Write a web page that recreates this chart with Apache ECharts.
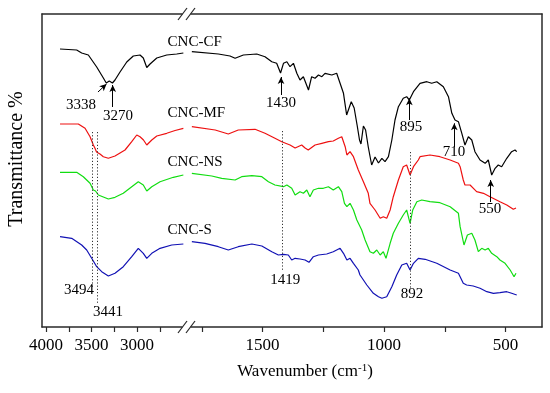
<!DOCTYPE html>
<html><head><meta charset="utf-8">
<script src="https://cdn.jsdelivr.net/npm/echarts@6/dist/echarts.min.js"></script>
<style>html,body{margin:0;padding:0;background:#fff}#c{width:550px;height:393px}</style>
</head><body><div id="c"></div>
<script>
// ---- tick values ----
const leftTicks = [4000, 3750, 3500, 3250, 3000, 2750];
const leftLabels = [4000, 3500, 3000];
const rightTicks = [1750, 1500, 1250, 1000, 750, 500];
const rightLabels = [1500, 1000, 500];

// ---- spectra: [wavenumber, relative transmittance (arbitrary, offset)] ----
const cfLeft = [[3846,278],[3663,277],[3608,274],[3535,272],[3443,260],[3370,249],[3338,244],[3305,246],[3270,244],[3242,247],[3187,255],[3113,265],[3041,271],[2967,272],[2931,269],[2893,259.5],[2857,263],[2783,269],[2674,272],[2564,273],[2491,274]];
const cfRight = [[1791,275.3],[1682,273],[1634,271],[1613,268.7],[1579,272],[1524,273],[1490,270.3],[1462,265.3],[1442,263.7],[1426,254],[1414,263.7],[1400,265.3],[1387,260.3],[1373,263.7],[1359,253.7],[1346,247],[1332,250.3],[1311,237],[1298,250.3],[1284,248.7],[1270,252],[1256,250.3],[1243,253.7],[1215,252],[1195,253.7],[1181,243.7],[1167,233.7],[1154,212],[1144,219],[1135,225.3],[1123,219],[1111,202],[1101,187],[1095,183],[1085,201],[1076,197],[1065,180],[1051,162],[1037,170],[1023,164],[1009,168.7],[996,165.3],[982,170.3],[968,187],[955,207],[941,220.3],[921,228.7],[907,230.3],[896,227],[879,235.3],[852,243.7],[824,245.3],[804,243.7],[783,245.3],[756,240.3],[735,230.3],[721,213.7],[708,207],[694,205.3],[680,193.7],[667,182],[653,190.3],[639,187],[626,175.3],[605,167],[584,163.7],[571,167],[557,152],[543,158.7],[530,162],[516,160.3],[495,168.7],[475,175.3],[461,177],[454,175.3]];

const mfLeft = [[3846,203],[3645,203],[3571,198.7],[3516,190.3],[3480,182],[3462,178.7],[3445,175],[3434,176.5],[3407,173],[3370,170.3],[3315,168.7],[3242,171],[3132,177],[3058,185.3],[3003,192],[2967,190.3],[2929,187],[2893,182],[2838,187],[2783,191],[2674,193.7],[2582,196.5],[2491,198.7]];
const mfRight = [[1791,200.3],[1695,197],[1641,193],[1600,197],[1531,197.7],[1490,193.7],[1449,188.7],[1421,185.3],[1387,182],[1366,179],[1339,182],[1325,179],[1312,177],[1284,182],[1256,183.7],[1229,185.3],[1209,186],[1188,188.7],[1174,190.3],[1160,180.3],[1153,172],[1140,175.3],[1126,170.3],[1106,157],[1085,145.3],[1065,133.7],[1058,123.7],[1037,117],[1016,108.7],[1003,110.3],[989,108.7],[975,117],[962,130.3],[941,147],[921,160.3],[907,162],[893,152],[879,160.3],[859,167],[852,170.3],[811,172],[770,170.3],[728,167],[694,163.7],[687,160.3],[674,147],[667,142],[646,142],[619,135.3],[591,133.7],[564,130.3],[523,125.3],[495,122],[468,117.7],[457,119]];

const nsLeft = [[3846,154.7],[3663,154.7],[3590,150.3],[3516,143.7],[3480,137],[3456,136],[3443,137],[3425,132],[3370,130],[3315,128],[3242,129.7],[3151,133.7],[3058,140.3],[2986,145.3],[2931,142],[2893,136],[2838,140.3],[2747,145.3],[2601,149.7],[2491,152]];
const nsRight = [[1791,153.7],[1709,151],[1668,148.7],[1613,147],[1586,150.3],[1544,151.3],[1503,150.3],[1476,145.3],[1449,142],[1414,140.3],[1400,142],[1380,138.7],[1366,132],[1346,135.3],[1332,133.7],[1318,137],[1305,130.3],[1291,137],[1270,138.7],[1250,138.7],[1229,140.3],[1209,137],[1188,140.3],[1174,135.3],[1163,123.7],[1153,120.3],[1140,123.7],[1126,117],[1112,107],[1092,97],[1078,87],[1058,75.3],[1044,73.7],[1030,77],[1016,72],[1003,75.3],[992,68.7],[975,83.7],[962,93.7],[941,103.7],[921,112],[907,117],[893,103.7],[882,117],[865,125.3],[845,127],[811,125.3],[770,124.3],[728,120.3],[694,113.7],[687,100.3],[671,82],[657,92],[639,93.7],[626,87],[612,75.3],[598,78.7],[584,77],[571,78.7],[557,73.7],[536,70.3],[523,67],[502,63.7],[481,57],[465,50.3],[457,53.7]];

const sLeft = [[3846,90.3],[3718,88.7],[3608,82],[3553,77],[3498,68.7],[3443,60.3],[3388,55.3],[3315,51],[3242,53.7],[3151,60.3],[3058,70.3],[2986,78.7],[2931,73.7],[2893,68.7],[2838,73.7],[2747,78.7],[2619,82],[2491,83]];
const sRight = [[1791,85.3],[1737,83.7],[1682,80.3],[1641,77],[1600,80.3],[1544,83],[1503,81],[1462,75.3],[1435,72],[1414,72.7],[1394,72],[1380,67],[1366,68.7],[1346,68],[1325,67],[1309,64.7],[1291,70.3],[1270,72],[1236,73],[1209,75.3],[1195,77],[1181,78.7],[1167,73.7],[1153,67],[1140,68.7],[1126,63.7],[1106,57],[1099,52],[1071,42],[1044,33.7],[1023,30.3],[1009,28.7],[989,30.3],[968,40.3],[948,52],[927,62],[907,63.7],[893,57],[879,63.7],[859,68.7],[831,67.7],[783,63.7],[728,57],[694,53.7],[674,43.7],[660,42],[633,41],[605,38.7],[577,35.3],[550,33.7],[523,34.3],[495,35.3],[475,33.7],[454,32]];

// ---- annotations ----
const seriesNames = ['CNC-CF', 'CNC-MF', 'CNC-NS', 'CNC-S'];
const seriesColors = ['#000000', '#ee1111', '#11dd11', '#1111b4'];
const nameLabelPos = [[2670, 285], [2670, 214], [2670, 165], [2670, 96.5]];
const peakLabelsLeft = [['3338', 3615, 222], ['3270', 3209, 211], ['3494', 3637, 37], ['3441', 3319, 15]];
const peakLabelsRight = [['1430', 1424, 224], ['895', 889, 200], ['710', 712, 175], ['550', 564, 118], ['1419', 1407, 47], ['892', 885, 33]];
const arrowsLeft = [[[3429, 235], [3335, 243]], [[3267, 220], [3267, 242]]];
const arrowsRight = [[[1424, 232], [1424, 250]], [[896, 207], [896, 228.7]], [[711, 180], [711, 203.7]], [[561, 125], [561, 147]]];
const dottedLeft = [[3494, 195, 40], [3441, 195, 24]];
const dottedRight = [[1419, 196, 57], [892, 175, 39]];

const FONT = 'Liberation Serif';
const AX = '#2a2a2a';
const chart = echarts.init(document.getElementById('c'), null, {renderer: 'canvas'});

function xAx(grid, min, max, pos, ticks, labels) {
  const main = pos === 'bottom';
  return {
    gridIndex: grid, type: 'value', min: min, max: max, inverse: true, position: pos,
    axisLine: {show: true, onZero: false, lineStyle: {color: AX, width: 1.5}},
    axisTick: {show: main, inside: false, length: 5, customValues: ticks, lineStyle: {color: AX, width: 1.2}},
    axisLabel: {show: main, customValues: labels, margin: 10, fontFamily: FONT, fontSize: 17, color: '#000',
      formatter: v => String(v)},
    splitLine: {show: false}
  };
}
function yAx(grid, pos) {
  return {
    gridIndex: grid, type: 'value', min: 0, max: 313, position: pos,
    axisLine: {show: true, onZero: false, lineStyle: {color: AX, width: 1.5}},
    axisTick: {show: false}, axisLabel: {show: false}, splitLine: {show: false}
  };
}
const labelStyle = {fontFamily: FONT, fontSize: 15, color: '#000'};
function peakPoints(list) {
  return list.map(p => ({name: p[0], coord: [p[1], p[2]]}));
}
function arrowLines(list) {
  return list.map(a => [{coord: a[0]}, {coord: a[1]}]);
}
function dotLines(list) {
  return list.map(d => [{coord: [d[0], d[1]]}, {coord: [d[0], d[2]]}]);
}

const leftData = [cfLeft, mfLeft, nsLeft, sLeft];
const rightData = [cfRight, mfRight, nsRight, sRight];
const series = [];
for (let i = 0; i < 4; i++) {
  const leftS = {
    type: 'line', name: seriesNames[i], xAxisIndex: 0, yAxisIndex: 0, data: leftData[i],
    showSymbol: false, symbol: 'none', lineStyle: {color: seriesColors[i], width: 1.2}, itemStyle: {color: seriesColors[i]},
    silent: true, clip: false,
    markPoint: {
      symbol: 'rect', symbolSize: 1, itemStyle: {color: 'rgba(0,0,0,0)'}, silent: true,
      label: Object.assign({show: true, position: 'right', distance: 0, formatter: '{b}'}, labelStyle),
      data: [{name: seriesNames[i], coord: nameLabelPos[i]}]
    }
  };
  const rightS = {
    type: 'line', name: seriesNames[i], xAxisIndex: 1, yAxisIndex: 1, data: rightData[i],
    showSymbol: false, symbol: 'none', lineStyle: {color: seriesColors[i], width: 1.2}, itemStyle: {color: seriesColors[i]},
    silent: true, clip: false
  };
  series.push(leftS, rightS);
}
// annotation carriers
series.push({
  type: 'line', xAxisIndex: 0, yAxisIndex: 0, data: [], silent: true,
  markPoint: {symbol: 'rect', symbolSize: 1, itemStyle: {color: 'rgba(0,0,0,0)'}, silent: true,
    label: Object.assign({show: true, position: 'inside', formatter: '{b}'}, labelStyle), data: peakPoints(peakLabelsLeft)},
  markLine: {silent: true, symbol: ['none', 'arrow'], symbolSize: [5, 7], label: {show: false},
    lineStyle: {color: '#000', width: 1, type: 'solid'}, data: arrowLines(arrowsLeft)}
});
series.push({
  type: 'line', xAxisIndex: 0, yAxisIndex: 0, data: [], silent: true,
  markLine: {silent: true, symbol: ['none', 'none'], label: {show: false},
    lineStyle: {color: '#333', width: 1, type: [1.2, 2]}, data: dotLines(dottedLeft)}
});
series.push({
  type: 'line', xAxisIndex: 1, yAxisIndex: 1, data: [], silent: true,
  markPoint: {symbol: 'rect', symbolSize: 1, itemStyle: {color: 'rgba(0,0,0,0)'}, silent: true,
    label: Object.assign({show: true, position: 'inside', formatter: '{b}'}, labelStyle), data: peakPoints(peakLabelsRight)},
  markLine: {silent: true, symbol: ['none', 'arrow'], symbolSize: [5, 7], label: {show: false},
    lineStyle: {color: '#000', width: 1, type: 'solid'}, data: arrowLines(arrowsRight)}
});
series.push({
  type: 'line', xAxisIndex: 1, yAxisIndex: 1, data: [], silent: true,
  markLine: {silent: true, symbol: ['none', 'none'], label: {show: false},
    lineStyle: {color: '#333', width: 1, type: [1.2, 2]}, data: dotLines(dottedRight)}
});

const option = {
  animation: false,
  backgroundColor: '#fff',
  grid: [
    {left: 42, top: 14, width: 145, height: 313, containLabel: false},
    {left: 187, top: 14, width: 355, height: 313, containLabel: false}
  ],
  xAxis: [
    xAx(0, 2451, 4044, 'bottom', leftTicks, leftLabels),
    xAx(1, 350, 1811, 'bottom', rightTicks, rightLabels),
    xAx(0, 2451, 4044, 'top'),
    xAx(1, 350, 1811, 'top')
  ],
  yAxis: [yAx(0, 'left'), yAx(1, 'right')],
  series: series,
  graphic: [
    {type: 'rect', z: 100, shape: {x: 182.5, y: 10, width: 8, height: 8}, style: {fill: '#fff'}},
    {type: 'rect', z: 100, shape: {x: 182.5, y: 323, width: 8, height: 8}, style: {fill: '#fff'}},
    {type: 'line', z: 101, shape: {x1: 178, y1: 20, x2: 187, y2: 8}, style: {stroke: AX, lineWidth: 1.2}},
    {type: 'line', z: 101, shape: {x1: 186, y1: 20, x2: 195, y2: 8}, style: {stroke: AX, lineWidth: 1.2}},
    {type: 'line', z: 101, shape: {x1: 178, y1: 333, x2: 187, y2: 321}, style: {stroke: AX, lineWidth: 1.2}},
    {type: 'line', z: 101, shape: {x1: 186, y1: 333, x2: 195, y2: 321}, style: {stroke: AX, lineWidth: 1.2}},
    {type: 'text', z: 101, x: 305, y: 372, style: {
      text: '{a|Wavenumber (cm}{s|-1}{a|)}', align: 'center', verticalAlign: 'middle',
      rich: {a: {fontFamily: FONT, fontSize: 17, fill: '#000', color: '#000'},
             s: {fontFamily: FONT, fontSize: 11, fill: '#000', color: '#000', verticalAlign: 'top', padding: [0, 0, 8, 0]}}
    }},
    {type: 'text', z: 101, x: 17, y: 159, rotation: Math.PI / 2, style: {
      text: 'Transmittance %', align: 'center', verticalAlign: 'middle',
      fontFamily: FONT, fontSize: 20, fill: '#000'
    }}
  ]
};
chart.setOption(option);
</script>
</body></html>
